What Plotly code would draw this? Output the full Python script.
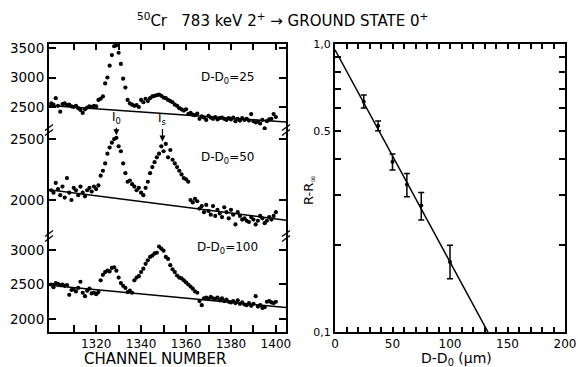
import plotly.graph_objects as go

channels = list(range(1300, 1401))

counts_25 = [2560, 2540, 2650, 2520, 2420, 2550, 2560, 2530, 2540, 2510,
             2500, 2520, 2480, 2450, 2400, 2460, 2490, 2510, 2500, 2520,
             2510, 2620, 2640, 2680, 2900, 3000, 3200, 3380, 3530, 3545,
             3420, 3230, 2980, 2830, 2620, 2560, 2540, 2520, 2530, 2500,
             2620, 2580, 2640, 2600, 2650, 2680, 2690, 2700, 2710, 2690,
             2660, 2650, 2620, 2600, 2580, 2540, 2520, 2480, 2460, 2440,
             2460, 2380, 2400, 2370, 2360, 2390, 2300, 2340, 2320, 2280,
             2350, 2320, 2300, 2330, 2290, 2310, 2320, 2300, 2280, 2310,
             2290, 2320, 2260, 2300, 2270, 2310, 2280, 2300, 2270, 2380,
             2260, 2240, 2250, 2220, 2280, 2140, 2260, 2290, 2300, 2380,
             2330]

counts_50 = [2080, 2060, 2140, 2090, 2040, 2110, 2020, 2180, 2060, 2000,
             2100, 2080, 2040, 2110, 2060, 2030, 2080, 2100, 2070, 2110,
             2090, 2120, 2200, 2240, 2300, 2380, 2430, 2470, 2500, 2510,
             2440, 2400, 2300, 2220, 2150, 2160, 2130, 2110, 2080, 2100,
             2060, 2040, 2100, 2150, 2220, 2270, 2310, 2350, 2380, 2440,
             2400, 2460, 2350, 2410, 2330, 2300, 2270, 2240, 2210, 2180,
             2170, 2150, 2000, 1980, 2010, 1990, 1930, 1950, 1900, 1960,
             1910, 1880, 1950, 1870, 1920, 1890, 1860, 1940, 1900, 1850,
             1920, 1880, 1800, 1900, 1870, 1840, 1850, 1830, 1820, 1860,
             1840, 1800, 1830, 1870, 1850, 1810, 1830, 1860, 1840, 1870,
             1900]

counts_100 = [2500, 2460, 2520, 2510, 2490, 2500, 2480, 2490, 2350, 2420,
              2430, 2400, 2450, 2540, 2380, 2330, 2410, 2440, 2370, 2380,
              2360, 2390, 2560, 2640, 2680, 2700, 2690, 2740, 2750, 2700,
              2600, 2520, 2480, 2450, 2390, 2410, 2380, 2560, 2600, 2620,
              2680, 2730, 2800, 2850, 2900, 2920, 2950, 2960, 3050, 3020,
              2990, 2900, 2870, 2780, 2720, 2680, 2630, 2600, 2590, 2560,
              2530, 2500, 2470, 2440, 2400, 2380, 2260, 2200, 2300, 2310,
              2290, 2320, 2300, 2290, 2310, 2270, 2300, 2260, 2280, 2250,
              2240, 2260, 2230, 2270, 2220, 2240, 2210, 2200, 2230, 2190,
              2220, 2330, 2180, 2200, 2160, 2170, 2250, 2260, 2240, 2230,
              2250]

# background lines (channel ends, counts)
bg_channels = [1299, 1404.5]
bg_25 = [2525, 2245]
bg_50 = [2085, 1835]
bg_100 = [2490, 2165]

# ratio vs distance
dist = [25, 37.5, 50, 62.5, 75, 100]
ratio = [0.63, 0.52, 0.39, 0.325, 0.275, 0.175]
ratio_err_up = [0.035, 0.02, 0.025, 0.03, 0.03, 0.025]
ratio_err_dn = [0.03, 0.02, 0.025, 0.03, 0.03, 0.022]
fit_dist = [0, 133]
fit_ratio = [0.955, 0.1]

chan_tickvals = list(range(1310, 1401, 10))
chan_ticktext = ["", "1320", "", "1340", "", "1360", "", "1380", "", "1400"]
dist_tickvals = list(range(0, 201, 10))
dist_ticktext = [str(v) if v % 50 == 0 else "" for v in dist_tickvals]
ratio_tickvals = [0.1, 0.2, 0.3, 0.4, 0.5, 0.6, 0.7, 0.8, 0.9, 1.0]
ratio_ticktext = ["0,1", "", "", "", "0.5", "", "", "", "", "1,0"]

FONT = "DejaVu Sans, sans-serif"
mk = dict(color="black", size=4.2)
ln = dict(color="black", width=1.5)

fig = go.Figure()
fig.add_trace(go.Scatter(x=channels, y=counts_25, mode="markers", marker=mk, xaxis="x", yaxis="y"))
fig.add_trace(go.Scatter(x=bg_channels, y=bg_25, mode="lines", line=ln, xaxis="x", yaxis="y"))
fig.add_trace(go.Scatter(x=channels, y=counts_50, mode="markers", marker=mk, xaxis="x2", yaxis="y2"))
fig.add_trace(go.Scatter(x=bg_channels, y=bg_50, mode="lines", line=ln, xaxis="x2", yaxis="y2"))
fig.add_trace(go.Scatter(x=channels, y=counts_100, mode="markers", marker=mk, xaxis="x3", yaxis="y3"))
fig.add_trace(go.Scatter(x=bg_channels, y=bg_100, mode="lines", line=ln, xaxis="x3", yaxis="y3"))

fig.add_trace(go.Scatter(x=fit_dist, y=fit_ratio, mode="lines", line=ln, xaxis="x4", yaxis="y4"))
fig.add_trace(go.Scatter(x=dist, y=ratio, mode="markers", marker=dict(color="black", size=4),
                         error_y=dict(type="data", symmetric=False, array=ratio_err_up,
                                      arrayminus=ratio_err_dn, color="black", thickness=1.5, width=3),
                         xaxis="x4", yaxis="y4"))

axis_common = dict(showline=True, linecolor="black", linewidth=2, ticks="inside",
                   tickcolor="black", tickwidth=1.5, showgrid=False, zeroline=False,
                   automargin=False,
                   tickfont=dict(family=FONT, size=12, color="black"))
ytick_font = dict(family=FONT, size=13.5, color="black")

W = 578 - 49 - 13
L0, L1 = 0.0, 237 / W
R0, R1 = (335 - 49) / W, 1.0
d_top = [0.7014, 1.0]
d_mid = [0.3333, 0.7014]
d_bot = [0.0, 0.3333]
xr = [1299, 1404.5]

fig.update_layout(
    width=578, height=367,
    margin=dict(l=49, r=13, t=44, b=35),
    paper_bgcolor="white", plot_bgcolor="white",
    showlegend=False,
    font=dict(family=FONT, color="black"),
    xaxis=dict(axis_common, domain=[L0, L1], anchor="y", range=xr, side="top",
               tickvals=chan_tickvals, showticklabels=False, ticklen=6),
    xaxis2=dict(domain=[L0, L1], anchor="y2", range=xr, visible=False),
    xaxis3=dict(axis_common, domain=[L0, L1], anchor="y3", range=xr,
                tickvals=chan_tickvals, ticktext=chan_ticktext, ticklen=7),
    yaxis=dict(axis_common, domain=d_top, anchor="x", range=[2110, 3568],
               tickvals=[2500, 3000, 3500], mirror="ticks", ticklen=7, tickfont=ytick_font),
    yaxis2=dict(axis_common, domain=d_mid, anchor="x2", range=[1705, 2574],
                tickvals=[2000, 2500], mirror="ticks", ticklen=7, tickfont=ytick_font),
    yaxis3=dict(axis_common, domain=d_bot, anchor="x3", range=[1811, 3203],
                tickvals=[2000, 2500, 3000], mirror="ticks", ticklen=7, tickfont=ytick_font),
    xaxis4=dict(axis_common, domain=[R0, R1], anchor="y4", range=[0, 200],
                tickvals=dist_tickvals, ticktext=dist_ticktext, mirror="ticks", ticklen=5),
    yaxis4=dict(axis_common, domain=[0, 1], anchor="x4", type="log", range=[-1, 0],
                tickvals=ratio_tickvals, ticktext=ratio_ticktext, mirror="ticks", ticklen=6,
                tickfont=dict(family=FONT, size=11, color="black")),
)

ann_font = dict(family=FONT, size=12, color="black")
fig.add_annotation(text="<sup>50</sup>Cr   783 keV 2<sup>+</sup> \u2192 GROUND STATE 0<sup>+</sup>",
                   xref="paper", yref="paper", x=(282 - 49) / W, y=1.085, xanchor="center", yanchor="middle",
                   showarrow=False, font=dict(family=FONT, size=15, color="black"))
fig.add_annotation(text="CHANNEL NUMBER", xref="paper", yref="paper", x=(155 - 49) / W, y=-0.095,
                   xanchor="center", yanchor="middle", showarrow=False,
                   font=dict(family=FONT, size=15, color="black"))
fig.add_annotation(text="D-D<sub>0</sub> (\u03bcm)", xref="paper", yref="paper", x=(456 - 49) / W, y=-0.095,
                   xanchor="center", yanchor="middle", showarrow=False,
                   font=dict(family=FONT, size=14, color="black"))
fig.add_annotation(text="R-R<sub>\u221e</sub>", xref="paper", yref="paper", x=(309 - 49) / W, y=0.493,
                   xanchor="center", yanchor="middle", showarrow=False, textangle=-90,
                   font=dict(family=FONT, size=13, color="black"))
fig.add_annotation(text="D-D<sub>0</sub>=25", xref="x domain", yref="y domain", x=0.755, y=0.6,
                   xanchor="center", yanchor="middle", showarrow=False, font=ann_font)
fig.add_annotation(text="D-D<sub>0</sub>=50", xref="x2 domain", yref="y2 domain", x=0.755, y=0.736,
                   xanchor="center", yanchor="middle", showarrow=False, font=ann_font)
fig.add_annotation(text="D-D<sub>0</sub>=100", xref="x3 domain", yref="y3 domain", x=0.755, y=0.875,
                   xanchor="center", yanchor="middle", showarrow=False, font=ann_font)
fig.add_annotation(text="I<sub>0</sub>", xref="x2", yref="y2", x=1329, y=2530, ax=0, ay=-17,
                   showarrow=True, arrowhead=2, arrowsize=1, arrowwidth=1.2, arrowcolor="black",
                   font=ann_font)
fig.add_annotation(text="I<sub>s</sub>", xref="x2", yref="y2", x=1349.5, y=2480, ax=0, ay=-22,
                   showarrow=True, arrowhead=2, arrowsize=1, arrowwidth=1.2, arrowcolor="black",
                   font=ann_font)

# axis break marks
dx, dy = 4 / W, 3 / 288
for xb in (L0, L1):
    for yb in (d_top[0], d_mid[0]):
        for off in (-2.5 / 288, 2.5 / 288):
            fig.add_shape(type="line", xref="paper", yref="paper",
                          x0=xb - dx, y0=yb + off - dy, x1=xb + dx, y1=yb + off + dy,
                          line=dict(color="black", width=1.3))

fig.write_html("out.html")
